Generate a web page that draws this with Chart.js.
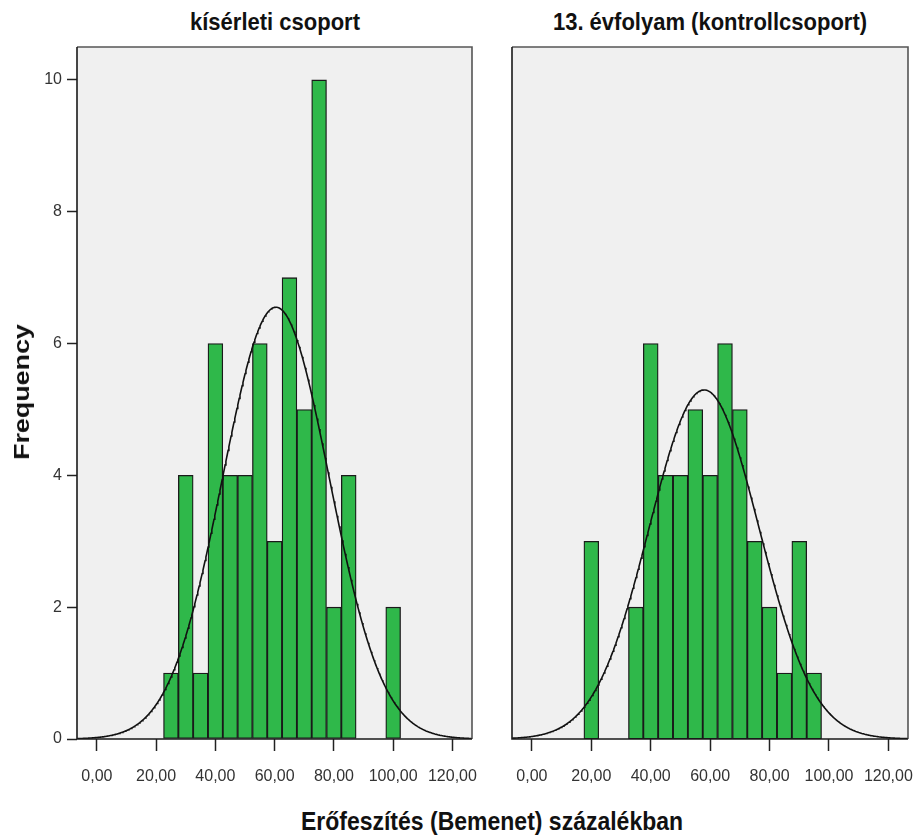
<!DOCTYPE html>
<html>
<head>
<meta charset="utf-8">
<script src="https://cdn.jsdelivr.net/npm/chart.js@4/dist/chart.umd.min.js"></script>
<style>
  html, body { margin: 0; padding: 0; background: #fff; }
  body { position: relative; width: 914px; height: 836px; overflow: hidden;
         font-family: "Liberation Sans", Arial, sans-serif; }
  canvas { position: absolute; top: 0; }
  .title { position: absolute; font-weight: bold; font-size: 22px; line-height: 22px;
           color: #111; white-space: nowrap; transform: translateX(-50%) scaleY(1.12); }
  #ytitle { position: absolute; left: 22px; top: 392px; font-weight: bold; font-size: 22px;
            line-height: 22px; color: #111; white-space: nowrap;
            transform: translate(-50%, -50%) rotate(-90deg) scaleX(1.22); }
  #xtitle { position: absolute; left: 492px; top: 810px; font-weight: bold; font-size: 23px;
            line-height: 23px; color: #111; white-space: nowrap; transform: translateX(-50%) scaleY(1.12); }
</style>
</head>
<body>
<div class="title" id="t0" style="left:275px; top:11px"></div>
<div class="title" id="t1" style="left:710px; top:11px"></div>
<canvas id="c0" width="482" height="800" style="left:0"></canvas>
<canvas id="c1" width="424" height="800" style="left:490px"></canvas>
<div id="ytitle"></div>
<div id="xtitle"></div>
<script>
// Histogram bins (centre of each 5-point bin) and frequencies per group
const binCenters     = [20, 25, 30, 35, 40, 45, 50, 55, 60, 65, 70, 75, 80, 85, 90, 95, 100];
const kiserletiCounts = [0, 1, 4, 1, 6, 4, 4, 6, 3, 7, 5, 10, 2, 4, 0, 0, 2];
const kontrollCounts  = [3, 0, 0, 2, 6, 4, 4, 5, 4, 6, 5, 3, 2, 1, 3, 1, 0];
const binWidth = 5;

const groupTitles = ['kísérleti csoport', '13. évfolyam (kontrollcsoport)'];
const xTickValues = [0, 20, 40, 60, 80, 100, 120];
const yTickValues = [0, 2, 4, 6, 8, 10];
const xAxisTitle = 'Erőfeszítés (Bemenet) százalékban';
const yAxisTitle = 'Frequency';

const X_MIN = -6.7, X_MAX = 126.6, Y_MAX = 10.5;
const FONT = '"Liberation Sans", Arial, sans-serif';

document.getElementById('t0').textContent = groupTitles[0];
document.getElementById('t1').textContent = groupTitles[1];
document.getElementById('xtitle').textContent = xAxisTitle;
document.getElementById('ytitle').textContent = yAxisTitle;

const fmtDec = v => v.toFixed(2).replace('.', ',');

// Normal curve fitted to the binned data (mean, sd and n of the histogram)
function normalCurve(counts) {
  let n = 0, sum = 0;
  counts.forEach((c, i) => { n += c; sum += c * binCenters[i]; });
  const mean = sum / n;
  let ss = 0;
  counts.forEach((c, i) => { ss += c * (binCenters[i] - mean) ** 2; });
  const sd = Math.sqrt(ss / (n - 1));
  const k = n * binWidth / (sd * Math.sqrt(2 * Math.PI));
  const pts = [];
  for (let x = X_MIN; x <= X_MAX + 1e-9; x += 0.25) {
    pts.push({ x, y: k * Math.exp(-((x - mean) ** 2) / (2 * sd * sd)) });
  }
  return pts;
}

function barPoints(counts) {
  return binCenters.map((x, i) => ({ x, y: counts[i] })).filter(p => p.y > 0);
}

// Plot background and frame
const framePlugin = {
  id: 'frame',
  beforeDraw(chart) {
    const { ctx, chartArea: a } = chart;
    ctx.save();
    ctx.fillStyle = '#f0f0f0';
    ctx.fillRect(a.left, a.top, a.right - a.left, a.bottom - a.top);
    ctx.restore();
  },
  afterDraw(chart) {
    const { ctx, chartArea: a } = chart;
    ctx.save();
    ctx.lineWidth = 1.6;
    ctx.strokeStyle = '#555';
    ctx.beginPath();
    ctx.moveTo(a.left, a.top); ctx.lineTo(a.right, a.top); ctx.lineTo(a.right, a.bottom);
    ctx.stroke();
    ctx.strokeStyle = '#1a1a1a';
    ctx.beginPath();
    ctx.moveTo(a.left, a.top); ctx.lineTo(a.left, a.bottom); ctx.lineTo(a.right, a.bottom);
    ctx.stroke();
    ctx.restore();
  }
};

function makeChart(id, counts, showY) {
  const yScale = showY ? {
    min: 0, max: Y_MAX,
    border: { display: false },
    grid: { drawOnChartArea: false, drawTicks: true, tickLength: 10, tickWidth: 1.5, tickColor: '#222' },
    ticks: { padding: 5, color: '#333', font: { family: FONT, size: 16 } },
    afterBuildTicks: s => { s.ticks = yTickValues.map(v => ({ value: v })); },
    afterFit: s => { s.width = 77; s.paddingTop = 0; s.paddingBottom = 0; }
  } : { display: false, min: 0, max: Y_MAX };

  return new Chart(document.getElementById(id), {
    type: 'bar',
    data: {
      datasets: [
        {
          type: 'line',
          data: normalCurve(counts),
          borderColor: '#111',
          borderWidth: 1.6,
          pointRadius: 0,
          fill: false,
          tension: 0,
          order: 0
        },
        {
          type: 'bar',
          data: barPoints(counts),
          backgroundColor: '#2fb84a',
          borderColor: '#1a1a1a',
          borderWidth: 1.3,
          borderSkipped: false,
          barPercentage: 1,
          categoryPercentage: 1,
          order: 1
        }
      ]
    },
    options: {
      responsive: false,
      animation: false,
      layout: { padding: showY ? { top: 47, right: 10, left: 0, bottom: 0 }
                                : { top: 47, right: 6, left: 22, bottom: 0 } },
      plugins: { legend: { display: false }, tooltip: { enabled: false }, title: { display: false } },
      scales: {
        x: {
          type: 'linear', min: X_MIN, max: X_MAX, offset: false,
          border: { display: false },
          grid: { offset: false, drawOnChartArea: false, drawTicks: true, tickLength: 12, tickWidth: 1.5, tickColor: '#222' },
          ticks: { padding: 16, color: '#333', maxRotation: 0, autoSkip: false,
                   font: { family: FONT, size: 16 }, callback: v => fmtDec(v) },
          afterBuildTicks: s => { s.ticks = xTickValues.map(v => ({ value: v })); },
          afterFit: s => { s.height = 61; s.paddingLeft = 0; s.paddingRight = 0; }
        },
        y: yScale
      }
    },
    plugins: [framePlugin]
  });
}

makeChart('c0', kiserletiCounts, true);
makeChart('c1', kontrollCounts, false);
</script>
</body>
</html>
